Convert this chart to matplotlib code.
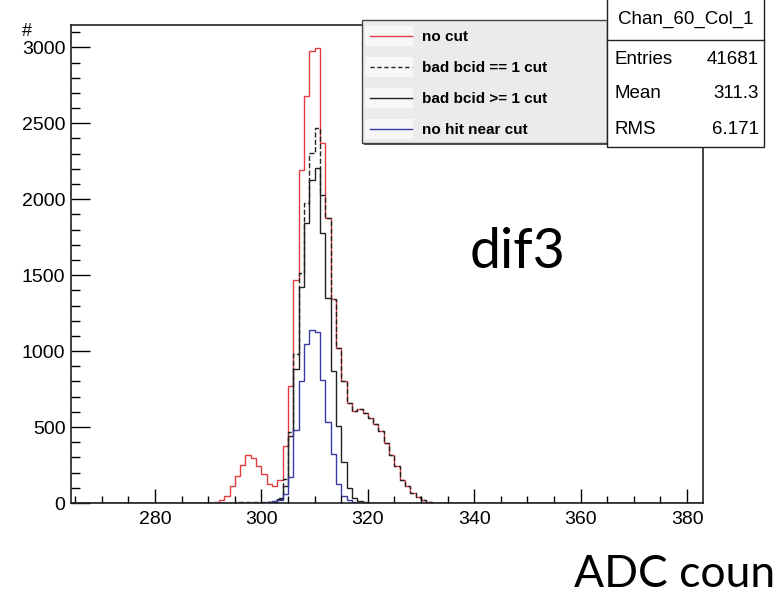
import numpy as np
import matplotlib
matplotlib.use("Agg")
import matplotlib.pyplot as plt
from matplotlib.patches import Rectangle
from matplotlib.lines import Line2D
from matplotlib.ticker import MultipleLocator

plt.rcParams['font.family'] = ['Liberation Sans', 'DejaVu Sans']

# histogram range (ADC counts), 1 count per bin
x_lo, x_hi = 264, 383
first_bin = 290   # counts below start at this bin, everything else is empty

no_cut = [0, 5, 22, 48, 109, 175, 252, 318, 296, 245,
          193, 127, 114, 153, 372, 767, 1465, 2194, 2681, 2978,
          2997, 2368, 1875, 1340, 1020, 800, 660, 605, 620, 590,
          560, 522, 471, 395, 318, 241, 153, 109, 66, 39,
          22, 8, 3, 0]
bcid_eq1 = [0, 0, 1, 2, 3, 4, 6, 8, 8, 6,
            5, 6, 12, 35, 160, 470, 980, 1513, 1978, 2303,
            2467, 2030, 1875, 1340, 1020, 800, 660, 605, 620, 590,
            560, 522, 471, 395, 318, 241, 153, 109, 66, 39,
            22, 8, 3, 0]
bcid_ge1 = [0, 0, 0, 1, 1, 2, 3, 3, 3, 2,
            2, 4, 8, 25, 110, 440, 880, 1420, 1842, 2127,
            2204, 1776, 1348, 866, 505, 270, 99, 33, 10, 4,
            2, 0, 0, 0, 0, 0, 0, 0, 0, 0,
            0, 0, 0, 0]
no_hit = [0, 0, 0, 0, 1, 1, 2, 2, 2, 2,
          3, 5, 10, 20, 60, 170, 480, 800, 1045, 1140,
          1125, 810, 535, 320, 125, 45, 18, 6, 2, 0,
          0, 0, 0, 0, 0, 0, 0, 0, 0, 0,
          0, 0, 0, 0]

labels = ["no cut", "bad bcid == 1 cut", "bad bcid >= 1 cut", "no hit near cut"]
colors = ["#e23c40", "#222222", "#222222", "#3a3aa6"]
styles = ["-", "--", "-", "-"]

stat_title = "Chan_60_Col_1"
stat_names = ["Entries", "Mean", "RMS"]
stat_vals = ["41681", "311.3", "6.171"]

W, H = 773, 589
def fx(px):
    return px / W
def fy(py):
    return 1 - py / H

edges = np.arange(x_lo, x_hi + 1)

def full(counts):
    h = np.zeros(len(edges) - 1)
    i0 = first_bin - x_lo
    h[i0:i0 + len(counts)] = counts
    return h

fig = plt.figure(figsize=(W / 100, H / 100), dpi=100)
ax = fig.add_axes([fx(71), fy(503), fx(703) - fx(71), fy(25) - fy(503)])

for series, c, ls in zip([no_cut, bcid_eq1, bcid_ge1, no_hit], colors, styles):
    ax.stairs(full(series), edges, color=c, linestyle=ls, linewidth=1.0)

ax.set_xlim(x_lo + 0.2, x_hi)
ax.set_ylim(0, 3147)

ax.xaxis.set_major_locator(MultipleLocator(20))
ax.xaxis.set_minor_locator(MultipleLocator(5))
ax.yaxis.set_major_locator(MultipleLocator(500))
ax.yaxis.set_minor_locator(MultipleLocator(100))
ax.tick_params(axis='y', which='major', direction='in', length=13.5, width=1.0,
               labelsize=14, pad=4, right=False)
ax.tick_params(axis='y', which='minor', direction='in', length=6.8, width=1.0, right=False)
ax.tick_params(axis='x', which='major', direction='in', length=10, width=1.0,
               labelsize=14, pad=6, top=False)
ax.tick_params(axis='x', which='minor', direction='in', length=5, width=1.0, top=False)
for sp in ax.spines.values():
    sp.set_linewidth(1.2)
    sp.set_color("#222222")

fig.text(fx(27), fy(31), "#", fontsize=13, ha='center', va='center')

# legend box
lx0, ly0, lx1, ly1 = 362, 20, 607, 143
fig.patches.append(Rectangle((fx(lx0 + 2), fy(ly1 + 2)), fx(lx1) - fx(lx0), fy(ly0) - fy(ly1),
                             transform=fig.transFigure, facecolor="#555555",
                             edgecolor="none", zorder=5))
fig.patches.append(Rectangle((fx(lx0), fy(ly1)), fx(lx1) - fx(lx0), fy(ly0) - fy(ly1),
                             transform=fig.transFigure, facecolor="#ebebeb",
                             edgecolor="#444444", linewidth=1.0, zorder=6))
rows = [36, 67, 98, 129]
for yy, lab, c, ls in zip(rows, labels, colors, styles):
    fig.patches.append(Rectangle((fx(365), fy(yy + 10)), fx(413) - fx(365), fy(yy - 10) - fy(yy + 10),
                                 transform=fig.transFigure, facecolor="#f7f7f7",
                                 edgecolor="none", zorder=7))
    fig.lines.append(Line2D([fx(370), fx(412)], [fy(yy), fy(yy)], transform=fig.transFigure,
                            color=c, linestyle=ls, linewidth=1.0, zorder=8,
                            dashes=(3, 2) if ls == "--" else (None, None)))
    fig.text(fx(422), fy(yy + 1), lab, fontsize=11, fontweight='bold', ha='left',
             va='center', zorder=8)

# stats box
sx0, sy0, sx1, sy1 = 607, -2, 764, 147
fig.patches.append(Rectangle((fx(sx0), fy(sy1)), fx(sx1) - fx(sx0), fy(sy0) - fy(sy1),
                             transform=fig.transFigure, facecolor="white",
                             edgecolor="#222222", linewidth=1.0, zorder=9))
fig.lines.append(Line2D([fx(sx0), fx(sx1)], [fy(40), fy(40)], transform=fig.transFigure,
                        color="#222222", linewidth=1.0, zorder=10))
fig.text(fx(686), fy(19), stat_title, fontsize=13.5, ha='center', va='center', zorder=10)
for yy, nm, v in zip([60, 94, 129], stat_names, stat_vals):
    fig.text(fx(615), fy(yy), nm, fontsize=13.5, ha='left', va='center', zorder=10)
    fig.text(fx(759), fy(yy), v, fontsize=13.5, ha='right', va='center', zorder=10)

fig.text(fx(470), fy(268), "dif3", fontsize=40, family=['Lato', 'DejaVu Sans'],
         ha='left', va='baseline')
fig.text(fx(574), fy(587), "ADC counts", fontsize=32, family=['Lato', 'DejaVu Sans'],
         ha='left', va='baseline')

fig.savefig("out.png", dpi=100)
